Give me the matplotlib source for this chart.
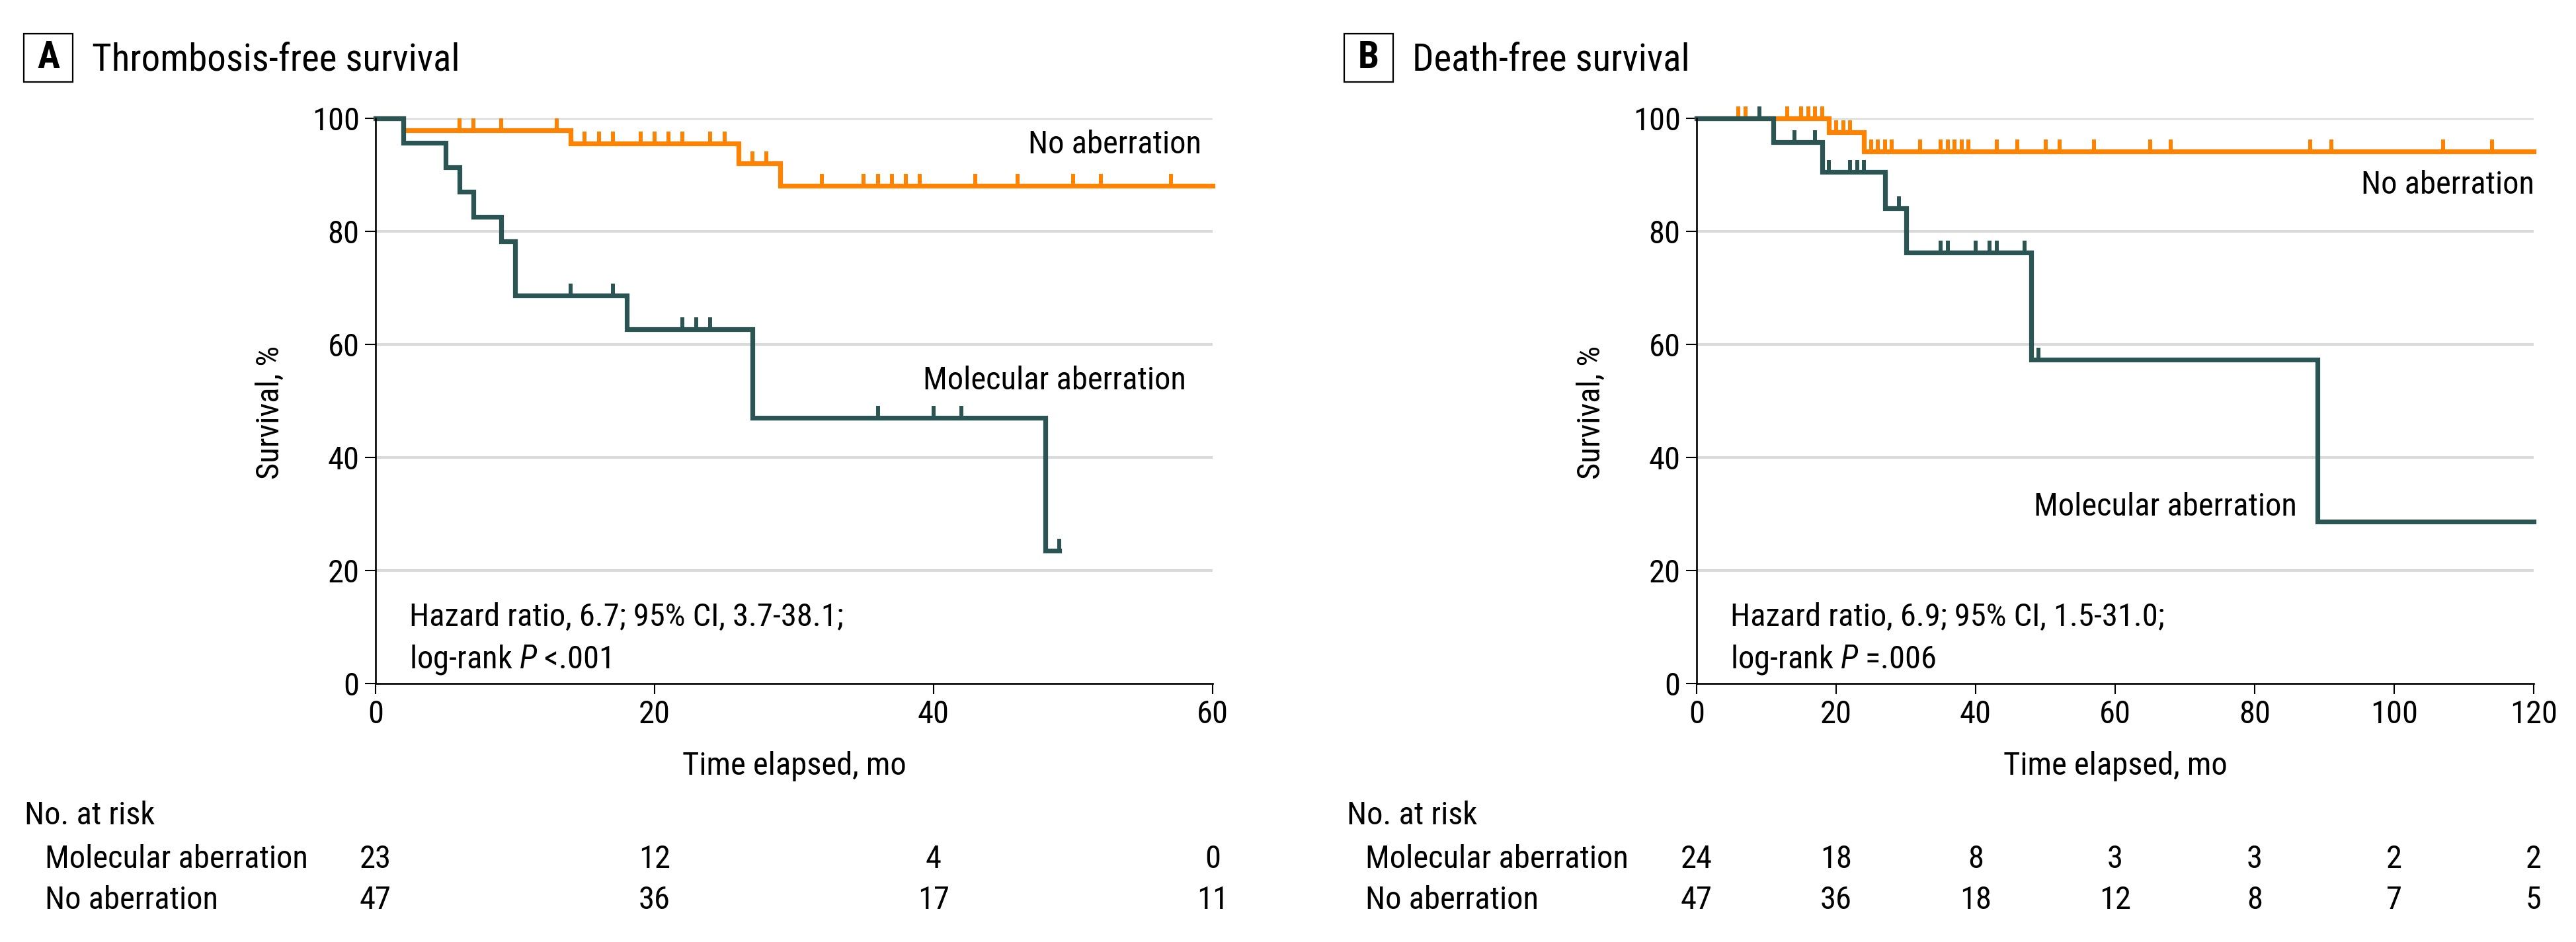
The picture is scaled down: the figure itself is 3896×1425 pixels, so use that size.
import matplotlib
matplotlib.use("Agg")
import matplotlib.pyplot as plt
from matplotlib import font_manager
from matplotlib.path import Path
from matplotlib.patches import Rectangle
from matplotlib.transforms import blended_transform_factory

# ---------------- data ----------------
# Panel A: Thrombosis-free survival
a_mol_times = [0, 2, 5, 6, 7, 9, 10, 18, 27, 48, 49]
a_mol_surv = [100, 95.7, 91.4, 87.0, 82.6, 78.3, 68.6, 62.7, 47.0, 23.5, 23.5]
a_mol_cens = [14, 17, 22, 23, 24, 36, 40, 42, 49]

a_no_times = [0, 2, 14, 26, 29, 60]
a_no_surv = [100, 97.9, 95.6, 92.0, 88.1, 88.1]
a_no_cens = [6, 7, 9, 13, 15, 16, 17, 19, 20, 21, 22, 24, 25, 27, 28,
             32, 35, 36, 37, 38, 39, 43, 46, 50, 52, 57]

# Panel B: Death-free survival
b_mol_times = [0, 11, 18, 27, 30, 48, 89, 120]
b_mol_surv = [100, 95.8, 90.5, 84.1, 76.3, 57.3, 28.7, 28.7]
b_mol_cens = [9, 14, 17, 19, 22, 23, 24, 29, 35, 36, 40, 42, 43, 47, 49]

b_no_times = [0, 19, 24, 120]
b_no_surv = [100, 97.5, 94.1, 94.1]
b_no_cens = [6, 7, 13, 15, 16, 17, 18, 20, 21, 22, 25, 26, 27, 28, 32,
             35, 36, 37, 38, 39, 43, 46, 50, 52, 57, 65, 68, 88, 91, 107, 114]

a_risk_times = [0, 20, 40, 60]
a_risk_mol = [23, 12, 4, 0]
a_risk_no = [47, 36, 17, 11]

b_risk_times = [0, 20, 40, 60, 80, 100, 120]
b_risk_mol = [24, 18, 8, 3, 3, 2, 2]
b_risk_no = [47, 36, 18, 12, 8, 7, 5]

a_xticks = [0, 20, 40, 60]
b_xticks = [0, 20, 40, 60, 80, 100, 120]
yticks = [0, 20, 40, 60, 80, 100]

# ---------------- style ----------------
names = {f.name for f in font_manager.fontManager.ttflist}
FONT = next((n for n in ["Roboto Condensed", "Liberation Sans Narrow",
                         "Open Sans Condensed", "Roboto"] if n in names),
            "DejaVu Sans")
if FONT == "Liberation Sans Narrow":
    FS, FT = 38, 43
elif FONT == "Roboto Condensed":
    FS, FT = 35, 41
else:
    FS, FT = 31, 36

plt.rcParams["font.family"] = [FONT, "DejaVu Sans"]
plt.rcParams["mathtext.fontset"] = "custom"
plt.rcParams["mathtext.rm"] = FONT
plt.rcParams["mathtext.it"] = FONT + ":italic"

ORANGE = "#FF8200"
TEAL = "#2B5553"
GRID = "#DADADA"

W, H = 3896, 1425
fig = plt.figure(figsize=(W / 100, H / 100), dpi=100)

cens_marker = Path([(0, 0), (0, 1)], [Path.MOVETO, Path.LINETO])


def px_x(p):
    return p / W


def px_y(p):
    return 1 - p / H


def km(ax, times, surv, cens, color):
    ax.step(times, surv, where="post", color=color, lw=5.2,
            solid_joinstyle="miter", clip_on=False, zorder=3)
    ys = []
    for c in cens:
        v = surv[0]
        for t, s in zip(times, surv):
            if t <= c:
                v = s
        ys.append(v)
    ax.plot(cens, ys, linestyle="none", marker=cens_marker, markersize=26,
            markeredgewidth=4.3, color=color, clip_on=False, zorder=3)


def setup(ax, xmax, xticks):
    ax.set_xlim(0, xmax)
    ax.set_ylim(0, 100)
    ax.set_xticks(xticks)
    ax.set_yticks(yticks)
    for s in ["top", "right"]:
        ax.spines[s].set_visible(False)
    for s in ["left", "bottom"]:
        ax.spines[s].set_linewidth(1.9)
        ax.spines[s].set_zorder(4)
    ax.tick_params(axis="both", length=11.5, width=1.5, labelsize=FS,
                   pad=6, direction="out")
    for y in yticks[1:]:
        ax.axhline(y, color=GRID, lw=2.9, zorder=1)
    ax.text(0.5, (1034 - 1172) / 855, "Time elapsed, mo", transform=ax.transAxes,
            ha="center", va="baseline", fontsize=FS)
    ax.text(-0.1256, 0.48, "Survival, %", transform=ax.transAxes, rotation=90,
            ha="center", va="center", fontsize=FS)


def panel_title(letter, box_x0, text_x, title):
    bx0, bx1 = box_x0, box_x0 + 74
    by0, by1 = 50.5, 124.2
    fig.patches.append(Rectangle((px_x(bx0), px_y(by1)), (bx1 - bx0) / W,
                                 (by1 - by0) / H, transform=fig.transFigure,
                                 fill=False, lw=1.6, edgecolor="black"))
    fig.text(px_x((bx0 + bx1) / 2), px_y((by0 + by1) / 2), letter,
             ha="center", va="center", fontsize=FT, fontweight="bold")
    fig.text(px_x(text_x), px_y(106.6), title, ha="left", va="baseline",
             fontsize=FT)


def risk_table(ax, head_x, row_x, times, mol, no):
    fig.text(px_x(head_x), px_y(1247), "No. at risk", ha="left",
             va="baseline", fontsize=FS)
    fig.text(px_x(row_x), px_y(1313), "Molecular aberration", ha="left",
             va="baseline", fontsize=FS)
    fig.text(px_x(row_x), px_y(1375), "No aberration", ha="left",
             va="baseline", fontsize=FS)
    tr = blended_transform_factory(ax.transData, fig.transFigure)
    for t, m, n in zip(times, mol, no):
        ax.text(t, px_y(1313), str(m), transform=tr, ha="center",
                va="baseline", fontsize=FS, clip_on=False)
        ax.text(t, px_y(1375), str(n), transform=tr, ha="center",
                va="baseline", fontsize=FS, clip_on=False)


axw = 1266 / W
axh = 855 / H
axb = 1 - 1034 / H

# ---------- Panel A ----------
axA = fig.add_axes([568 / W, axb, axw, axh])
setup(axA, 60, a_xticks)
km(axA, a_no_times, a_no_surv, a_no_cens, ORANGE)
km(axA, a_mol_times, a_mol_surv, a_mol_cens, TEAL)
axA.text(59.2, 93.8, "No aberration", ha="right", va="baseline", fontsize=FS)
axA.text(58.1, 52.0, "Molecular aberration", ha="right", va="baseline",
         fontsize=FS)
axA.text(2.4, 10.2, "Hazard ratio, 6.7; 95% CI, 3.7-38.1;", ha="left",
         va="baseline", fontsize=FS)
axA.text(2.4, 2.7, r"log-rank $\mathit{P}$ <.001", ha="left",
         va="baseline", fontsize=FS)
panel_title("A", 36.4, 139.3, "Thrombosis-free survival")
risk_table(axA, 37, 68, a_risk_times, a_risk_mol, a_risk_no)

# ---------- Panel B ----------
axB = fig.add_axes([2566 / W, axb, axw, axh])
setup(axB, 120, b_xticks)
km(axB, b_no_times, b_no_surv, b_no_cens, ORANGE)
km(axB, b_mol_times, b_mol_surv, b_mol_cens, TEAL)
axB.text(120.05, 86.7, "No aberration", ha="right", va="baseline",
         fontsize=FS)
axB.text(86.1, 29.7, "Molecular aberration", ha="right", va="baseline",
         fontsize=FS)
axB.text(4.8, 10.2, "Hazard ratio, 6.9; 95% CI, 1.5-31.0;", ha="left",
         va="baseline", fontsize=FS)
axB.text(4.8, 2.7, r"log-rank $\mathit{P}$ =.006", ha="left",
         va="baseline", fontsize=FS)
panel_title("B", 2033, 2136, "Death-free survival")
risk_table(axB, 2037, 2065, b_risk_times, b_risk_mol, b_risk_no)

fig.savefig("out.png", dpi=100, facecolor="white")
